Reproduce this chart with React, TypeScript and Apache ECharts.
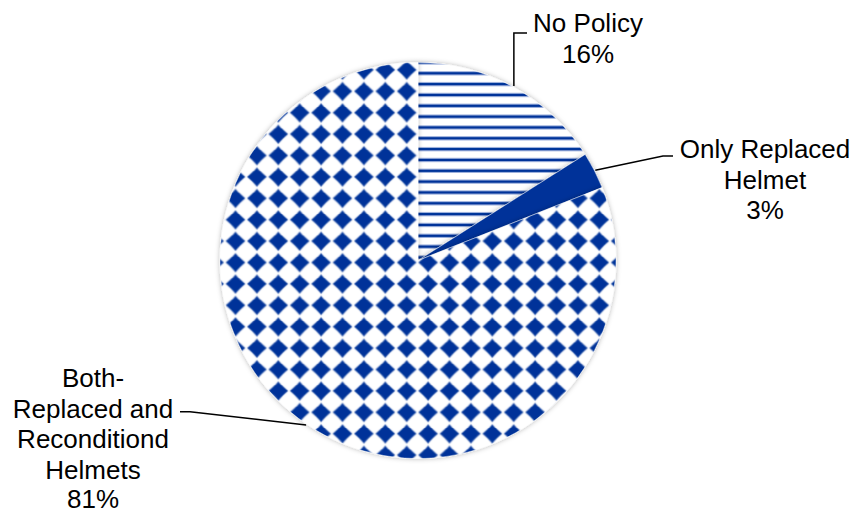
import React, { useEffect, useRef } from 'react';
import * as echarts from 'echarts';

// ---- data ----
const categories: string[] = [
  'No Policy',
  'Only Replaced\nHelmet',
  'Both-\nReplaced and\nReconditiond\nHelmets',
];
const values: number[] = [16, 3, 81];

// ---- style / layout ----
const BLUE = '#003399';
const FONT = '"Liberation Sans", Arial, Helvetica, sans-serif';
const labelPos: [number, number][] = [
  [588, 38.7],
  [765, 179.5],
  [93, 437.5],
];

function makeDiamondPattern() {
  const P = 21.4, S = 5;
  const c = document.createElement('canvas');
  c.width = Math.round(P * S);
  c.height = Math.round(P * S);
  const ctx = c.getContext('2d')!;
  ctx.scale(S, S);
  ctx.fillStyle = '#fff';
  ctx.fillRect(0, 0, P, P);
  ctx.fillStyle = BLUE;
  (ctx as any).filter = 'blur(2px)';
  const cx0 = 0.1, cy0 = 5.8;
  const r = 9.8, k = 0.45;
  for (let dx = -1; dx <= 1; dx++) {
    for (let dy = -1; dy <= 1; dy++) {
      const cx = cx0 + dx * P, cy = cy0 + dy * P;
      ctx.beginPath();
      ctx.moveTo(cx, cy - r);
      ctx.quadraticCurveTo(cx + r * k, cy - r * k, cx + r, cy);
      ctx.quadraticCurveTo(cx + r * k, cy + r * k, cx, cy + r);
      ctx.quadraticCurveTo(cx - r * k, cy + r * k, cx - r, cy);
      ctx.quadraticCurveTo(cx - r * k, cy - r * k, cx, cy - r);
      ctx.closePath();
      ctx.fill();
    }
  }
  return { image: c.toDataURL(), repeat: 'repeat', imageWidth: P, imageHeight: P };
}

function makeStripePattern() {
  const W = 8, H = 65, S = 4;
  const c = document.createElement('canvas');
  c.width = W * S;
  c.height = H * S;
  const ctx = c.getContext('2d')!;
  ctx.scale(S, S);
  ctx.fillStyle = '#fff';
  ctx.fillRect(0, 0, W, H);
  const step = H / 6;
  for (let i = -1; i <= 6; i++) {
    const cy = 8.3 + i * step;
    ctx.fillStyle = '#9db0dc';
    ctx.fillRect(0, cy - 2.2, W, 4.4);
    ctx.fillStyle = BLUE;
    ctx.fillRect(0, cy - 1.1, W, 2.2);
  }
  return { image: c.toDataURL(), repeat: 'repeat', imageWidth: W, imageHeight: H };
}

export default function App() {
  const ref = useRef<HTMLDivElement>(null);
  useEffect(() => {
    if (!ref.current) return;
    const chart = echarts.init(ref.current, null, { renderer: 'svg' });
    const fills: any[] = [makeStripePattern(), BLUE, makeDiamondPattern()];
    const total = values.reduce((a, b) => a + b, 0);

    const startPoint = (idx: number): number[] => {
      let before = 0;
      for (let i = 0; i < idx; i++) before += values[i];
      const mid = ((before + values[idx] / 2) / total) * Math.PI * 2;
      const r = 199;
      return [418 + r * Math.sin(mid), 260.5 - r * Math.cos(mid)];
    };

    chart.setOption({
      animation: false,
      backgroundColor: '#ffffff',
      series: [
        {
          type: 'pie',
          center: [418, 260.5],
          radius: 198,
          startAngle: 90,
          clockwise: true,
          avoidLabelOverlap: false,
          data: categories.map((name, i) => ({
            name,
            value: values[i],
            itemStyle: { color: fills[i] },
          })),
          itemStyle: {
            borderColor: 'rgba(255,255,255,0.7)',
            borderWidth: 0.6,
            shadowBlur: 5,
            shadowColor: 'rgba(0,0,0,0.3)',
          },
          label: {
            show: true,
            position: 'outside',
            formatter: (p: any) => {
              const pct = `${Math.round(p.percent)}%`;
              if (p.dataIndex === 2) return `{t|${p.name}}\n{p|${pct}}`;
              return `${p.name}\n${pct}`;
            },
            color: '#000',
            fontSize: 26,
            fontFamily: FONT,
            lineHeight: 30.5,
            align: 'center',
            rich: {
              t: { fontSize: 26, fontFamily: FONT, color: '#000', lineHeight: 30.5, align: 'center' },
              p: { fontSize: 26, fontFamily: FONT, color: '#000', lineHeight: 27, align: 'center' },
            },
          },
          labelLine: {
            show: true,
            length: 10,
            length2: 10,
            lineStyle: { color: '#000', width: 1.5 },
          },
          labelLayout: (p: any) => {
            const i = p.dataIndex;
            const s = startPoint(i);
            let pts: number[][];
            if (i === 0) pts = [s, [s[0], 33], [527, 33]];
            else if (i === 1) pts = [s, [663, 156], [673, 156]];
            else pts = [s, [190, 411.7], [180, 411.7]];
            return {
              x: labelPos[i][0],
              y: labelPos[i][1],
              align: 'center',
              verticalAlign: 'middle',
              labelLinePoints: pts,
            };
          },
          emphasis: { disabled: true },
        },
      ],
    });
    return () => chart.dispose();
  }, []);
  return (
    <div
      ref={ref}
      style={{ position: 'fixed', left: 0, top: 0, width: 856, height: 512 }}
    />
  );
}
